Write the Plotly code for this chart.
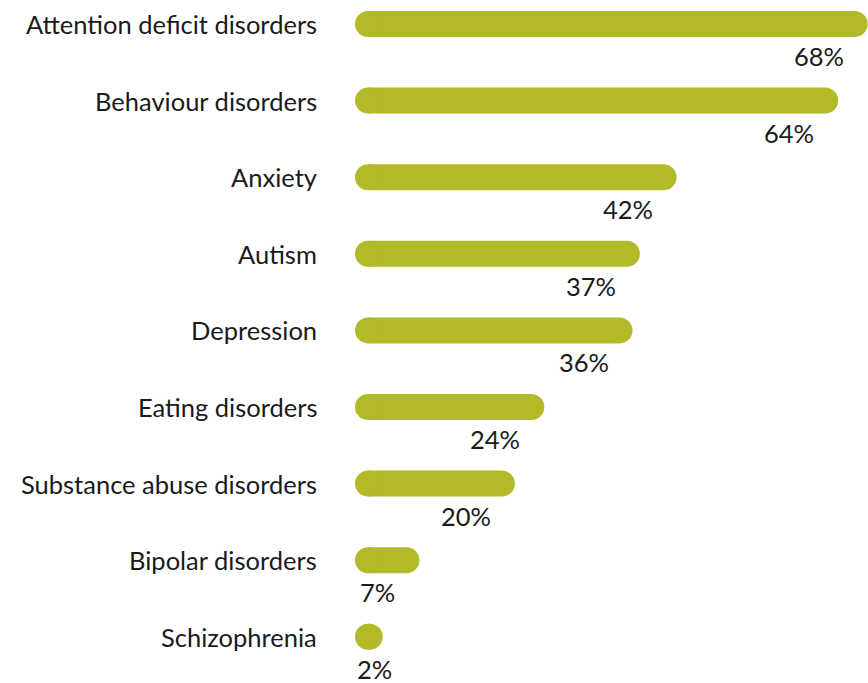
import plotly.graph_objects as go

# Share of respondents by condition
categories = [
    "Attention deficit disorders",
    "Behaviour disorders",
    "Anxiety",
    "Autism",
    "Depression",
    "Eating disorders",
    "Substance abuse disorders",
    "Bipolar disorders",
    "Schizophrenia",
]
values = [68, 64, 42, 37, 36, 24, 20, 7, 2]
value_labels = [f"{v}%" for v in values]

BAR_COLOR = "#b2ba27"
TEXT_COLOR = "#1a1a1a"
FONT = "Lato"
FONT_SIZE = 25.5
W, H = 868, 683
ZERO_PX = 368           # pixel position of 0 %
X_MAX = 68.05           # right edge of the plotting area, in %
ROW_PX = 76.6           # vertical spacing of rows
FIRST_ROW_PX = 24       # centre of the first row
BAR_PX = 26             # bar thickness

px_per_unit = (W - ZERO_PX) / X_MAX
x_range = [-ZERO_PX / px_per_unit, X_MAX]
y_idx = list(range(len(categories)))
y_range = [(H - FIRST_ROW_PX) / ROW_PX, -FIRST_ROW_PX / ROW_PX]

fig = go.Figure()

# Bars, rounded at their far end
fig.add_trace(go.Bar(
    x=values,
    y=y_idx,
    orientation="h",
    width=BAR_PX / ROW_PX,
    marker=dict(color=BAR_COLOR, cornerradius=BAR_PX // 2, line=dict(width=0)),
    hoverinfo="skip",
))

# Round caps at the base of each bar
fig.add_trace(go.Scatter(
    x=[0] * len(values),
    y=y_idx,
    mode="markers",
    marker=dict(color=BAR_COLOR, size=BAR_PX, symbol="circle", line=dict(width=0)),
    hoverinfo="skip",
))

annotations = []
for i, (cat, v, lab) in enumerate(zip(categories, values, value_labels)):
    annotations.append(dict(
        x=0, y=i, xref="x", yref="y", text=cat, showarrow=False,
        xanchor="right", yanchor="middle", xshift=-50, borderpad=0,
        font=dict(family=FONT, size=FONT_SIZE, color=TEXT_COLOR),
    ))
    if v >= 5:
        ax, anchor, shift = v, "right", -23
    else:
        ax, anchor, shift = 0, "left", -12
    annotations.append(dict(
        x=ax, y=i, xref="x", yref="y", text=lab, showarrow=False,
        xanchor=anchor, yanchor="middle", xshift=shift, yshift=-32,
        borderpad=0,
        font=dict(family=FONT, size=FONT_SIZE, color=TEXT_COLOR),
    ))

fig.update_layout(
    width=W, height=H,
    margin=dict(l=0, r=0, t=0, b=0),
    paper_bgcolor="white", plot_bgcolor="white",
    showlegend=False,
    xaxis=dict(range=x_range, visible=False, fixedrange=True),
    yaxis=dict(range=y_range, visible=False, fixedrange=True),
    annotations=annotations,
)

fig.write_html("out.html")
